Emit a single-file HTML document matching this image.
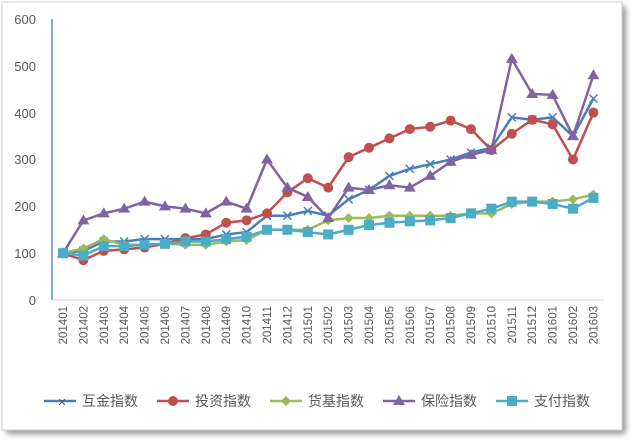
<!DOCTYPE html>
<html><head><meta charset="utf-8"><style>
body{margin:0;background:#fff;width:640px;height:443px;overflow:hidden}
text{font-family:"Liberation Sans","Noto Sans CJK SC",sans-serif;fill:#595959}
</style></head><body>
<svg width="640" height="443" xmlns="http://www.w3.org/2000/svg">
<defs><filter id="sh" x="-5%" y="-5%" width="110%" height="110%"><feGaussianBlur stdDeviation="3"/></filter></defs>
<rect x="6" y="6" width="620" height="428" fill="#999" filter="url(#sh)"/>
<rect x="2" y="2" width="620" height="428" fill="#fff" stroke="#d0d0d0"/>
<g font-size="13" text-anchor="end">
<text x="36" y="305">0</text><text x="36" y="258">100</text><text x="36" y="211">200</text>
<text x="36" y="164">300</text><text x="36" y="118">400</text><text x="36" y="71">500</text><text x="36" y="24">600</text>
</g>
<line x1="52" y1="19" x2="52" y2="300" stroke="#5b8bd0" stroke-width="1.5"/>
<line x1="52" y1="300" x2="604" y2="300" stroke="#d9d9d9"/>
<g id="xl" font-size="11.5" text-anchor="end"></g>
<g id="ser"></g>
<g font-size="14">
<line x1="44" y1="401" x2="76" y2="401" stroke="#4a7ebb" stroke-width="2.5"/><text x="62" y="406" font-size="11" fill="#4a7ebb" text-anchor="middle">✕</text><text x="82" y="406">互金指数</text>
<line x1="157" y1="401" x2="189" y2="401" stroke="#c0504d" stroke-width="2.5"/><circle cx="173" cy="401" r="5" fill="#c0504d"/><text x="195" y="406">投资指数</text>
<line x1="270" y1="401" x2="302" y2="401" stroke="#9bbb59" stroke-width="2.5"/><path d="M286 396l5 5-5 5-5-5z" fill="#9bbb59"/><text x="308" y="406">货基指数</text>
<line x1="383" y1="401" x2="415" y2="401" stroke="#8064a2" stroke-width="2.5"/><path d="M399 395l6 10h-12z" fill="#8064a2"/><text x="421" y="406">保险指数</text>
<line x1="496" y1="401" x2="528" y2="401" stroke="#4bacc6" stroke-width="2.5"/><rect x="507" y="396" width="10" height="10" fill="#4bacc6"/><text x="534" y="406">支付指数</text>
</g>
</svg>
<script>
const labs=[];for(const y of [2014,2015])for(let m=1;m<=12;m++)labs.push(y+String(m).padStart(2,'0'));labs.push('201601','201602','201603');
const X=i=>63+i*20.4,Y=v=>300-v*0.4683;
let s='';labs.forEach((l,i)=>{s+=`<text transform="translate(${X(i)+4},306) rotate(-90)">${l}</text>`});
document.getElementById('xl').innerHTML=s;
const D=[
['#4a7ebb','x',[100,105,125,125,130,130,130,130,140,145,180,180,190,180,215,235,265,280,290,300,315,325,390,385,390,350,430]],
['#c0504d','c',[100,85,105,108,112,120,132,140,165,170,185,230,260,240,305,325,345,365,370,383,365,320,355,385,375,300,400]],
['#9bbb59','d',[100,110,130,118,118,120,118,118,125,128,150,150,150,170,175,175,180,180,180,180,185,185,205,210,210,215,225]],
['#8064a2','t',[100,170,185,195,210,200,195,185,210,195,300,240,220,175,240,235,245,240,265,295,310,320,515,440,438,350,480]],
['#4bacc6','s',[100,95,115,115,118,120,125,125,130,135,150,150,145,140,150,160,165,168,170,175,185,195,210,210,205,195,218]]];
let g='';
for(const [c,m,v] of D){
g+=`<polyline fill="none" stroke="${c}" stroke-width="2.5" points="${v.map((y,i)=>X(i)+','+Y(y)).join(' ')}"/>`;
v.forEach((y,i)=>{const x=X(i),yy=Y(y);
if(m=='x')g+=`<path d="M${x-4} ${yy-4}L${x+4} ${yy+4}M${x+4} ${yy-4}L${x-4} ${yy+4}" stroke="${c}" stroke-width="1.5"/>`;
if(m=='c')g+=`<circle cx="${x}" cy="${yy}" r="5" fill="${c}"/>`;
if(m=='d')g+=`<path d="M${x} ${yy-5}l5 5-5 5-5-5z" fill="${c}"/>`;
if(m=='t')g+=`<path d="M${x} ${yy-6}l6 10h-12z" fill="${c}"/>`;
if(m=='s')g+=`<rect x="${x-5}" y="${yy-5}" width="10" height="10" fill="${c}"/>`;});
}
document.getElementById('ser').innerHTML=g;
</script>
</body></html>
